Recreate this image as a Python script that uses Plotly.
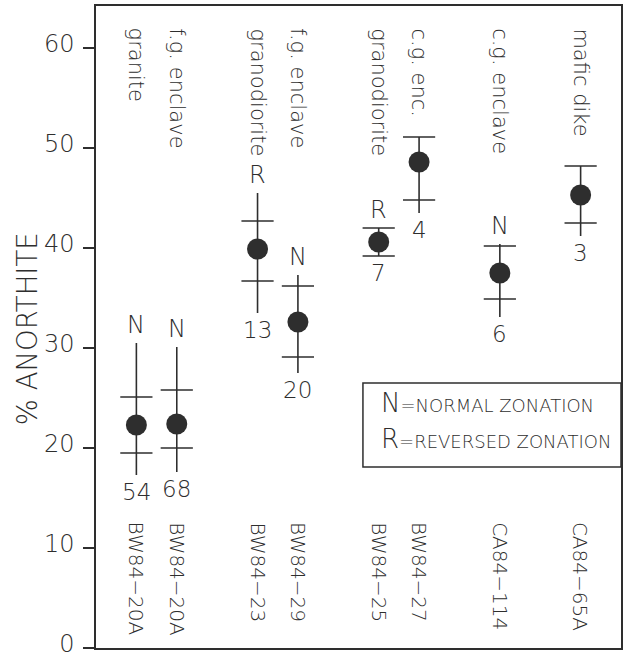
import plotly.graph_objects as go

# ---- data ----
samples = ["BW84−20A", "BW84−20A", "BW84−23", "BW84−29",
           "BW84−25", "BW84−27", "CA84−114", "CA84−65A"]
rock_types = ["granite", "f.g. enclave", "granodiorite", "f.g. enclave",
              "granodiorite", "c.g. enc.", "c.g. enclave", "mafic dike"]
slot = [0, 1, 3, 4, 6, 7, 9, 11]
mean_an = [22.3, 22.4, 39.9, 32.6, 40.6, 48.6, 37.5, 45.3]
upper_bar = [25.1, 25.8, 42.7, 36.2, 42.0, 51.1, 40.2, 48.2]
lower_bar = [19.5, 20.0, 36.7, 29.1, 39.2, 44.8, 34.9, 42.5]
range_max = [30.5, 30.1, 45.5, 37.3, 42.0, 51.1, 40.4, 48.2]
range_min = [17.3, 17.6, 33.5, 27.5, 39.2, 43.5, 33.1, 41.2]
n_grains = [54, 68, 13, 20, 7, 4, 6, 3]
zonation = ["N", "N", "R", "N", "R", "", "N", ""]
y_ticks = [0, 10, 20, 30, 40, 50, 60]

INK = "#2e2e2e"
FONT = "DejaVu Sans"
W = 300

fig = go.Figure()

# range lines
lx, ly = [], []
for s, lo, hi in zip(slot, range_min, range_max):
    lx += [s, s, None]
    ly += [lo, hi, None]
fig.add_trace(go.Scatter(x=lx, y=ly, mode="lines",
                         line=dict(color=INK, width=1.6),
                         hoverinfo="skip", showlegend=False))

# cross bars
fig.add_trace(go.Scatter(x=slot + slot, y=upper_bar + lower_bar, mode="markers",
                         marker=dict(symbol="line-ew", size=23,
                                     line=dict(color=INK, width=1.6)),
                         showlegend=False))

# means
fig.add_trace(go.Scatter(x=slot, y=mean_an, mode="markers",
                         marker=dict(symbol="circle", size=21, color=INK),
                         showlegend=False))


def f(size):
    return dict(size=size, color=INK, family=FONT, weight=W)


ann = []
for s, lo, hi, n, z, rt, sm in zip(slot, range_min, range_max, n_grains,
                                   zonation, rock_types, samples):
    ann.append(dict(x=s, y=lo, xref="x", yref="y", text=str(n),
                    showarrow=False, yanchor="top", yshift=-2, font=f(23)))
    if z:
        ann.append(dict(x=s, y=hi, xref="x", yref="y", text=z,
                        showarrow=False, yanchor="bottom", yshift=2,
                        font=f(24)))
    ann.append(dict(x=s, y=1, xref="x", yref="paper", text=rt,
                    showarrow=False, yanchor="top", yshift=-20,
                    textangle=90, font=f(21)))
    ann.append(dict(x=s, y=12.8, xref="x", yref="y", text=sm,
                    showarrow=False, yanchor="top",
                    textangle=90, font=f(20)))

# y axis title
ann.append(dict(x=-0.131, y=0.497, xref="paper", yref="paper",
                text="% ANORTHITE", showarrow=False, textangle=-90,
                xanchor="center", yanchor="middle", font=f(27.5)))

# legend box text
ann.append(dict(x=6.0, y=24.5, xref="x", yref="y", xanchor="left",
                yanchor="middle", showarrow=False,
                text="N<span style='font-size:18px'>=NORMAL ZONATION</span>",
                font=f(26)))
ann.append(dict(x=6.0, y=20.9, xref="x", yref="y", xanchor="left",
                yanchor="middle", showarrow=False,
                text="R<span style='font-size:18px'>=REVERSED ZONATION</span>",
                font=f(26)))

fig.add_shape(type="rect", xref="x", yref="y", x0=5.61, x1=12.0,
              y0=18.1, y1=26.5, line=dict(color=INK, width=1.5))

fig.update_layout(
    width=629, height=659,
    margin=dict(l=96, r=8, t=6, b=11),
    paper_bgcolor="white", plot_bgcolor="white",
    annotations=ann,
    font=dict(family=FONT, color=INK, weight=W),
    xaxis=dict(range=[-1.0, 12.0], showticklabels=False, ticks="",
               automargin=False,
               showgrid=False, zeroline=False, showline=True, mirror=True,
               linecolor=INK, linewidth=1.5),
    yaxis=dict(range=[0, 64.2], tickvals=y_ticks, ticks="outside",
               ticklen=11, tickwidth=1.5, tickcolor=INK,
               tickfont=f(24), automargin=False,
               ticklabelstandoff=4, ticklabeloverflow="allow",
               ticklabelshift=-4,
               showgrid=False, zeroline=False, showline=True, mirror=True,
               linecolor=INK, linewidth=1.5),
)

fig.write_html("out.html",
               config={"displayModeBar": False},
               post_script="document.body.style.margin='0';")
